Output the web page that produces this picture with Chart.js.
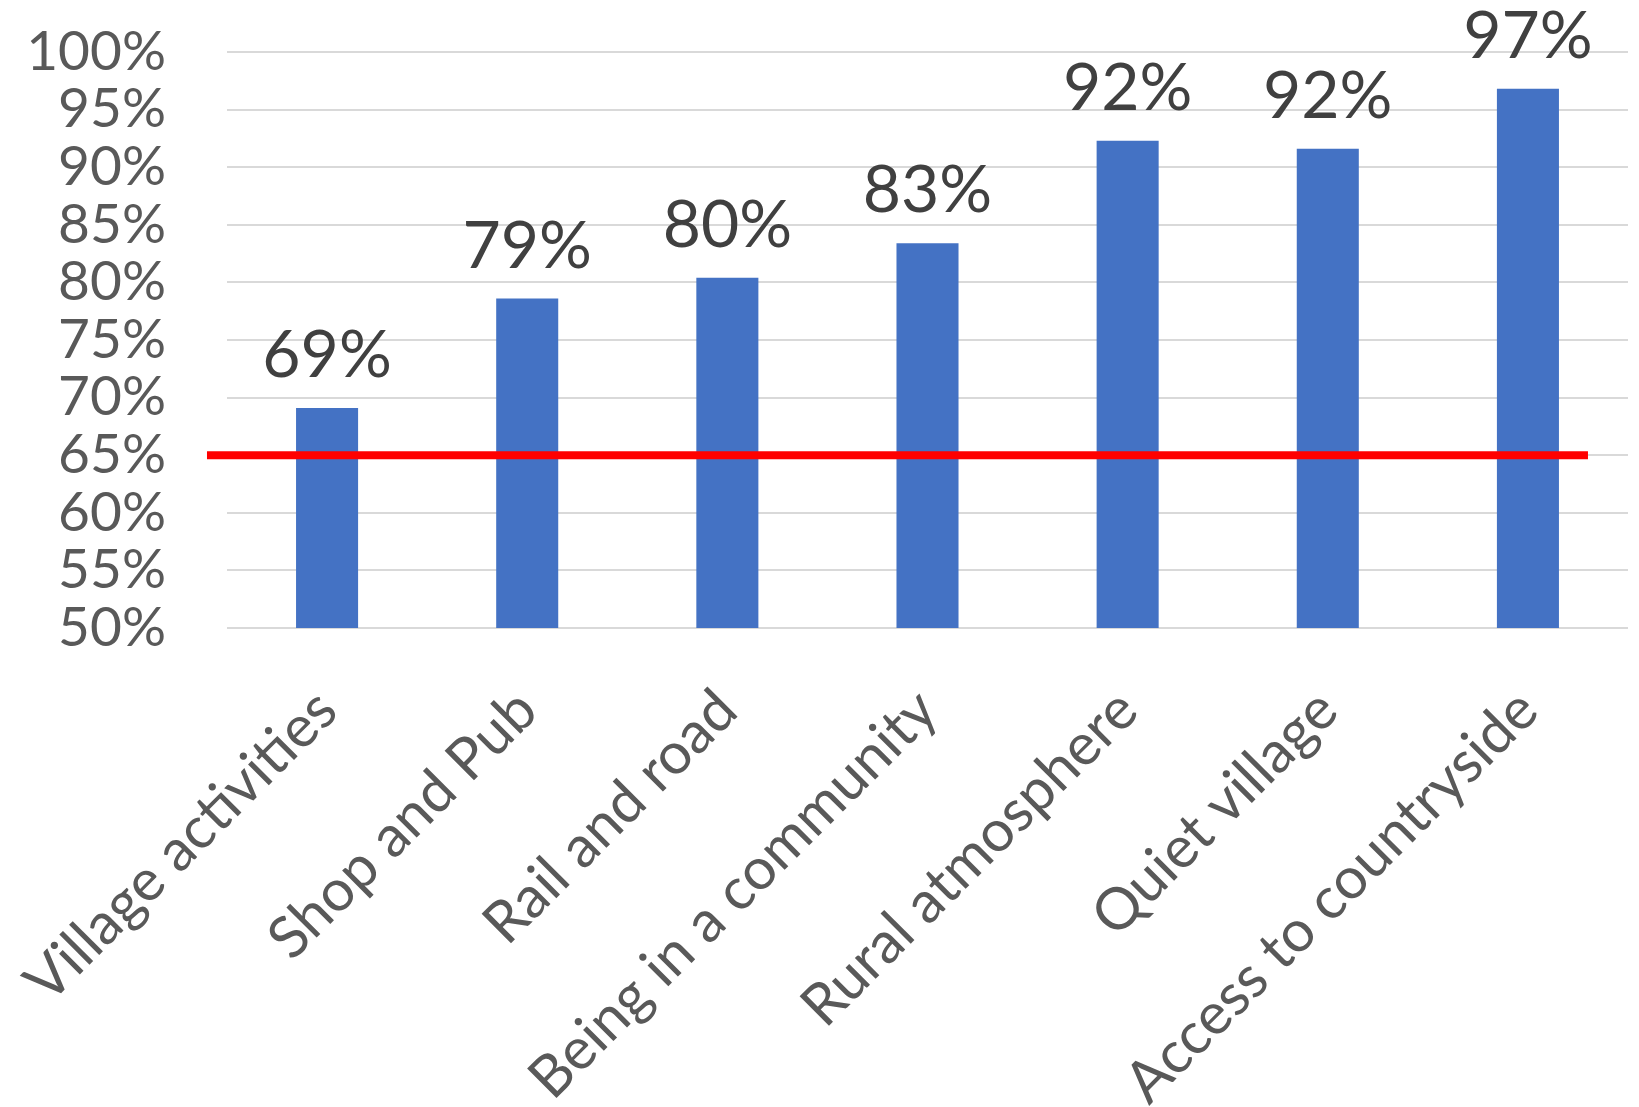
<!DOCTYPE html>
<html>
<head>
<meta charset="utf-8">
<script src="https://cdn.jsdelivr.net/npm/chart.js@4/dist/chart.umd.min.js"></script>
<style>
  html, body { margin: 0; padding: 0; background: #fff; }
  canvas { display: block; }
</style>
</head>
<body>
<canvas id="myChart" width="1639" height="1107"></canvas>
<script>
const labels = [
  "Village activities",
  "Shop and Pub",
  "Rail and road",
  "Being in a community",
  "Rural atmosphere",
  "Quiet village",
  "Access to countryside"
];
const values = [69.1, 78.6, 80.4, 83.4, 92.3, 91.6, 96.8];
const threshold = 65;
const yTicks = [50, 55, 60, 65, 70, 75, 80, 85, 90, 95, 100];

Chart.defaults.font.family = "Lato, 'Open Sans', sans-serif";

// value labels above bars
const barLabels = {
  id: "barLabels",
  afterDatasetsDraw(chart) {
    const ctx = chart.ctx;
    const meta = chart.getDatasetMeta(0);
    ctx.save();
    ctx.font = "66px Lato";
    ctx.fillStyle = "#404040";
    ctx.textAlign = "center";
    ctx.textBaseline = "alphabetic";
    meta.data.forEach((bar, i) => {
      ctx.fillText(Math.round(values[i]) + "%", bar.x, bar.y - 31);
    });
    ctx.restore();
  }
};

// red target line
const targetLine = {
  id: "targetLine",
  afterDatasetsDraw(chart) {
    const ctx = chart.ctx;
    const y = chart.scales.y.getPixelForValue(threshold);
    const area = chart.chartArea;
    const band = (area.right - area.left) / labels.length;
    ctx.save();
    ctx.strokeStyle = "#ff0000";
    ctx.lineWidth = 8;
    ctx.beginPath();
    ctx.moveTo(area.left - band * 0.1, y);
    ctx.lineTo(area.right - band * 0.2, y);
    ctx.stroke();
    ctx.restore();
  }
};

const ctx = document.getElementById("myChart").getContext("2d");
const myChart = new Chart(ctx, {
  type: "bar",
  data: {
    labels: labels,
    datasets: [{
      data: values,
      backgroundColor: "#4472C4",
      categoryPercentage: 1,
      barPercentage: 0.31
    }]
  },
  options: {
    responsive: false,
    animation: false,
    layout: { padding: { top: 52, right: 11, left: 0, bottom: 0 } },
    plugins: {
      legend: { display: false },
      tooltip: { enabled: false }
    },
    scales: {
      x: {
        afterFit(scale) {
          scale.height = 479;
          scale.paddingLeft = 0;
          scale.paddingRight = 0;
        },
        grid: { display: false, drawTicks: false },
        border: { display: false },
        ticks: {
          color: "#595959",
          font: { size: 58 },
          maxRotation: 45,
          minRotation: 45,
          autoSkip: false,
          padding: 48
        }
      },
      y: {
        min: 50,
        max: 100,
        afterFit(scale) {
          scale.width = 227;
          scale.paddingTop = 0;
          scale.paddingBottom = 0;
        },
        afterBuildTicks(scale) { scale.ticks = yTicks.map(v => ({ value: v })); },
        grid: { color: "#d9d9d9", lineWidth: 2, drawTicks: false },
        border: { display: false },
        ticks: {
          color: "#595959",
          font: { size: 55 },
          padding: 61,
          autoSkip: false,
          callback: v => v + "%"
        }
      }
    }
  },
  plugins: [barLabels, targetLine]
});
</script>
</body>
</html>
